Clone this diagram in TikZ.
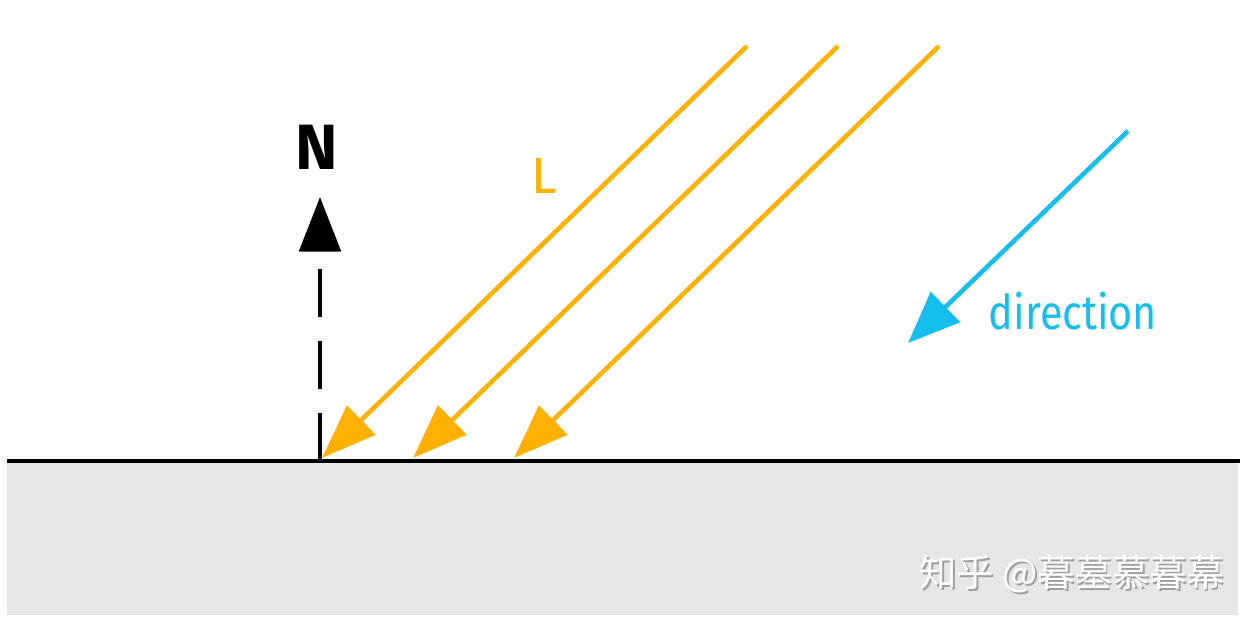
\documentclass[tikz,border=0pt]{standalone}
\usepackage{fontspec}
\setmainfont{Fira Sans}
\newfontfamily\cjk{Noto Sans CJK SC}
\usetikzlibrary{arrows.meta}
\definecolor{lorange}{RGB}{255,176,0}
\definecolor{dblue}{RGB}{22,190,240}
\definecolor{ground}{RGB}{229,230,231}
\newcommand{\wmtext}{知乎 @暮墓慕暮幕}
\tikzset{
  ray/.style={draw=lorange, line width=3.4pt, -{Triangle[length=41pt,width=30pt]}},
  dirarrow/.style={draw=dblue, line width=3.4pt, -{Triangle[length=39pt,width=31pt]}},
  normal/.style={draw=black, line width=3.6pt, dash pattern=on 36pt off 18pt, -{Triangle[length=41pt,width=31pt]}},
  lbl/.style={inner sep=0pt, anchor=center}
}
\begin{document}
\begin{tikzpicture}[x=0.75pt,y=-0.75pt]
\useasboundingbox[fill=white] (0,0) rectangle (1258,626);
% ground
\fill[ground] (7,463) rectangle (1238,615);
\coordinate (gl) at (7,461);
\coordinate (gr) at (1240,461);
\draw[line width=3.4pt] (gl) -- (gr);
% normal
\coordinate (nb) at (320,461);
\coordinate (nt) at (320,197);
\draw[normal] (nb) -- (nt);
\node[lbl, font=\fontsize{48}{48}\selectfont\fontseries{sb}\selectfont] (N) at (317,147) {N};
% light rays
\coordinate (r1s) at (747,46); \coordinate (r1e) at (322,458);
\coordinate (r2s) at (838,46); \coordinate (r2e) at (413,458);
\coordinate (r3s) at (939,46); \coordinate (r3e) at (514,458);
\draw[ray] (r1s) -- (r1e);
\draw[ray] (r2s) -- (r2e);
\draw[ray] (r3s) -- (r3e);
\node[lbl, text=lorange, font=\fontsize{38}{38}\selectfont] (L) at (544,176) {L};
% direction
\coordinate (ds) at (1128,131); \coordinate (de) at (908,343);
\draw[dirarrow] (ds) -- (de);
\node[lbl, text=dblue, font=\fontsize{36}{36}\selectfont, xscale=0.86] (dir) at (1073,311) {direction};
% watermark (white text with a grey drop shadow)
\node[lbl, font=\cjk\fontsize{28}{28}\selectfont] (wm) at (1072,575)
  {\rlap{\hspace{1.2pt}\raisebox{-1.2pt}{\textcolor{gray!75}{\wmtext}}}\textcolor{white}{\wmtext}};
\end{tikzpicture}
\end{document}
